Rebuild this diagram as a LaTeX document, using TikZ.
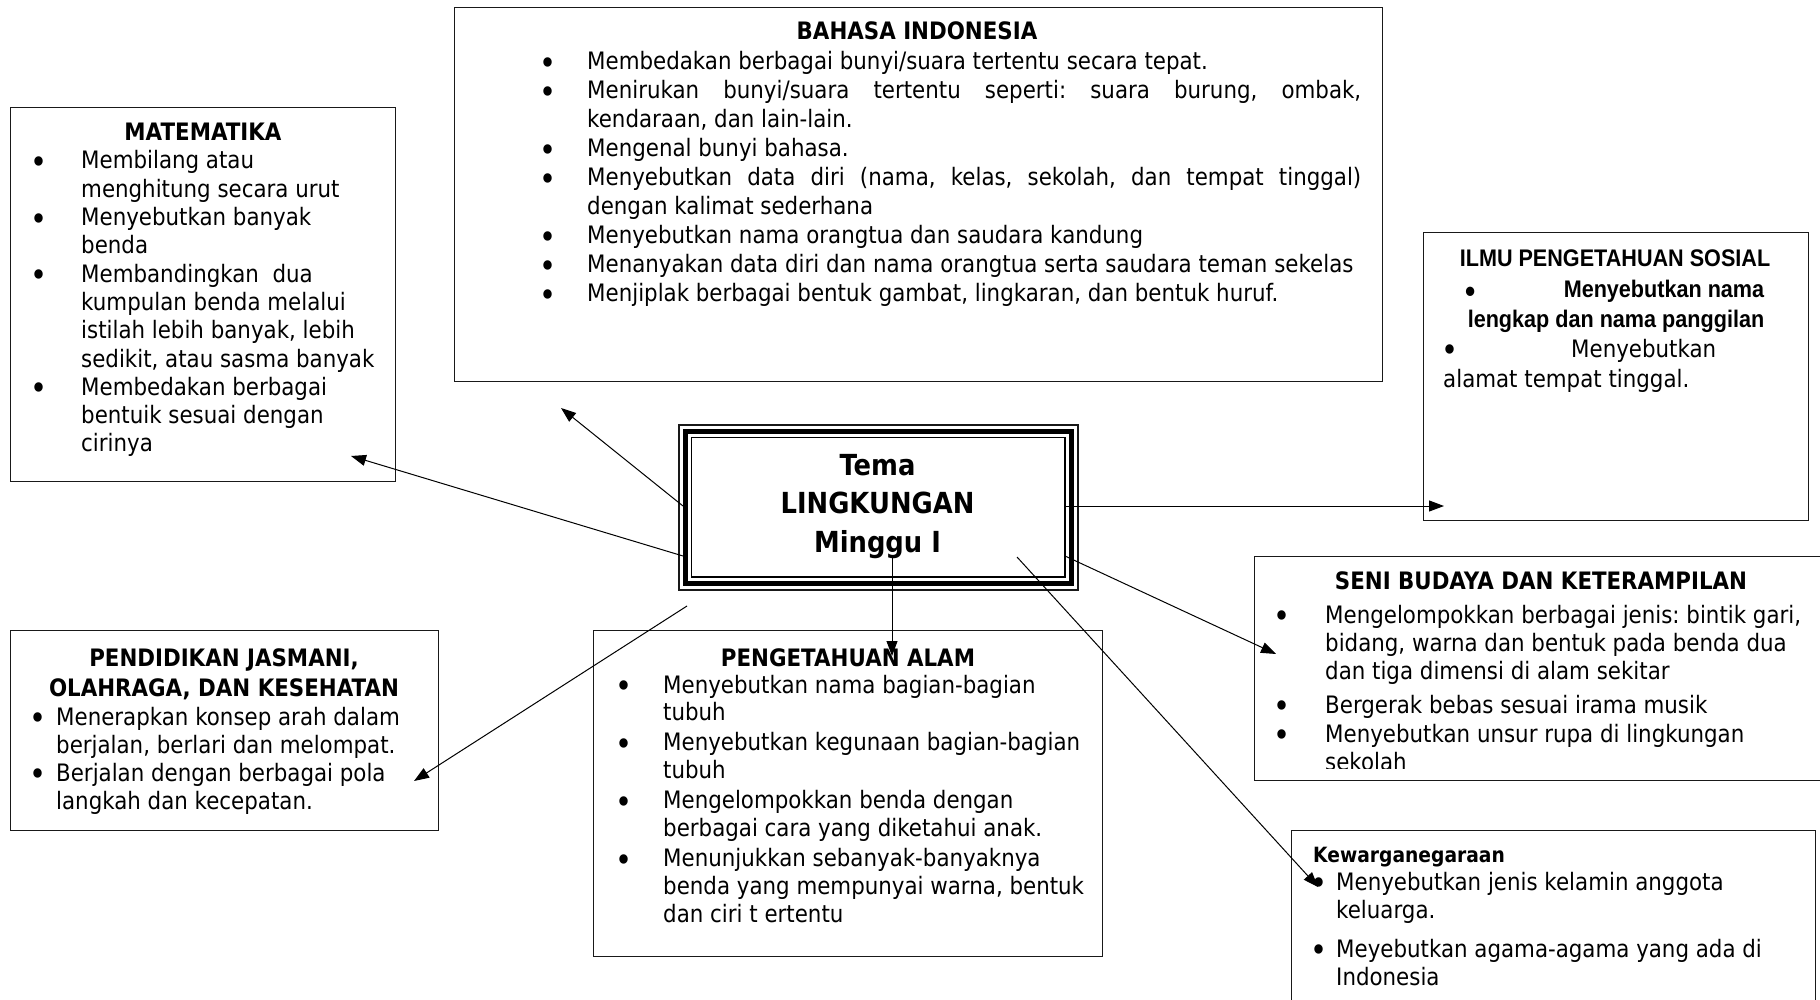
\documentclass[tikz,border=0pt]{standalone}
\usepackage{graphicx}
\usepackage{fontspec}
\setmainfont{DejaVu Sans}[FakeStretch=0.89]
\newfontfamily\sempit{Liberation Sans}[FakeStretch=0.9]
\usetikzlibrary{arrows.meta,calc}

% poin dan butir berpoin: #1 = indentasi teks, #2 = isi
\newcommand{\poin}{\raisebox{-4.5pt}{\scalebox{1.35}{\textbullet}}}
\newcommand{\itm}[2]{\par\hangindent=#1\hangafter=1\noindent\makebox[#1][l]{\poin}#2\par}
\newcommand{\isi}[1]{\fontsize{24}{#1}\selectfont\raggedright\frenchspacing}

\tikzset{
  kotak/.style={draw=black!90, line width=1.3pt, inner sep=0pt, anchor=north west},
  judul/.style={anchor=base, inner sep=0pt, font=\bfseries\fontsize{24}{30}\selectfont},
  teks/.style={anchor=base west, inner sep=0pt},
  panah/.style={line width=1pt, -{Triangle[length=15pt,width=11pt]}}
}

\begin{document}
\begin{tikzpicture}[x=1pt,y=1pt,yscale=-1,xscale=1]
\fill [white] (0,0) rectangle (1820,1000);
\useasboundingbox (0,0) rectangle (1820,1000);

%Shape: Rectangle [BAHASA INDONESIA]
\draw (454,7) node [kotak, minimum width=928pt, minimum height=374pt] (bahasa) {};
% Text Node
\draw (917,40) node [judul] (bahasa-judul) {BAHASA INDONESIA};
% Text Node
\draw (539,70) node [teks] (bahasa-isi) {\parbox[t]{840pt}{\isi{29}
\itm{48pt}{Membedakan berbagai bunyi/suara tertentu secara tepat.}
\itm{48pt}{\makebox[774pt][s]{Menirukan bunyi/suara tertentu seperti: suara burung, ombak,}\newline kendaraan, dan lain-lain.}
\itm{48pt}{Mengenal bunyi bahasa.}
\itm{48pt}{\makebox[774pt][s]{Menyebutkan data diri (nama, kelas, sekolah, dan tempat tinggal)}\newline dengan kalimat sederhana}
\itm{48pt}{Menyebutkan nama orangtua dan saudara kandung}
\itm{48pt}{Menanyakan data diri dan nama orangtua serta saudara teman sekelas}
\itm{48pt}{Menjiplak berbagai bentuk gambat, lingkaran, dan bentuk huruf.}}};

%Shape: Rectangle [MATEMATIKA]
\draw (10,107) node [kotak, minimum width=385pt, minimum height=374pt] (mat) {};
% Text Node
\draw (203,141) node [judul] (mat-judul) {MATEMATIKA};
% Text Node
\draw (30,169) node [teks] (mat-isi) {\parbox[t]{420pt}{\isi{28.3}
\itm{51pt}{Membilang atau\newline menghitung secara urut}
\itm{51pt}{Menyebutkan banyak\newline benda}
\itm{51pt}{Membandingkan\ \ dua\newline kumpulan benda melalui\newline istilah lebih banyak, lebih\newline sedikit, atau sasma banyak}
\itm{51pt}{Membedakan berbagai\newline bentuik sesuai dengan\newline cirinya}}};

%Shape: Rectangle [ILMU PENGETAHUAN SOSIAL]
\draw (1423,232) node [kotak, minimum width=385pt, minimum height=288pt] (ips) {};
% Text Node
\draw (1615,267) node [anchor=base, inner sep=0pt, font=\sempit\bfseries\fontsize{24}{30}\selectfont] (ips-judul) {ILMU PENGETAHUAN SOSIAL};
% Text Node
\draw (1441,298) node [teks] (ips-isi) {\parbox[t]{340pt}{\isi{29.7}
{\sempit\bfseries\makebox[323pt][s]{\hspace*{24pt}\poin\hfill Menyebutkan nama}\newline
\makebox[323pt][r]{lengkap dan nama panggilan}}\newline
\makebox[130pt][l]{\poin}Menyebutkan\newline
\hspace*{2pt}alamat tempat tinggal.}};

%Shape: Triple Rectangle [Tema]
\draw (678,424) node [kotak, line width=1.8pt, minimum width=399pt, minimum height=165pt] (tema) {};
\draw [line width=4.5pt] ($(tema.north west)+(7.5,7.5)$) rectangle ($(tema.south east)+(-7.5,-7.5)$);
\draw [line width=1.8pt] ($(tema.north west)+(13.5,13.5)$) rectangle ($(tema.south east)+(-13.5,-13.5)$);
% Text Node
\draw (877.5,475) node [anchor=base, inner sep=0pt] (tema-isi) {\parbox[t]{380pt}{\centering\bfseries\fontsize{29}{38.5}\selectfont Tema\\LINGKUNGAN\\Minggu I}};

%Shape: Rectangle [SENI BUDAYA DAN KETERAMPILAN]
\draw (1254,556) node [kotak, minimum width=574pt, minimum height=224pt] (seni) {};
% Text Node
\draw (1541,589) node [judul] (seni-judul) {SENI BUDAYA DAN KETERAMPILAN};
% Text Node
\begin{scope}
\clip (1254,556) rectangle (1820,768);
\draw (1273,623) node [teks] (seni-isi) {\parbox[t]{560pt}{\isi{28}
\itm{52pt}{Mengelompokkan berbagai jenis: bintik gari,\newline bidang, warna dan bentuk pada benda dua\newline dan tiga dimensi di alam sekitar}
\vspace{6pt}
\itm{52pt}{Bergerak bebas sesuai irama musik}
\vspace{1pt}
\itm{52pt}{Menyebutkan unsur rupa di lingkungan\newline sekolah}}};
\end{scope}

%Shape: Rectangle [PENDIDIKAN JASMANI]
\draw (10,630) node [kotak, minimum width=428pt, minimum height=200pt] (penjas) {};
% Text Node
\draw (224,666) node [judul] (penjas-judul) {\parbox[t]{420pt}{\centering PENDIDIKAN JASMANI,\\OLAHRAGA, DAN KESEHATAN}};
% Text Node
\draw (29,725) node [teks] (penjas-isi) {\parbox[t]{420pt}{\isi{28}
\itm{27pt}{Menerapkan konsep arah dalam\newline berjalan, berlari dan melompat.}
\itm{27pt}{Berjalan dengan berbagai pola\newline langkah dan kecepatan.}}};

%Shape: Rectangle [PENGETAHUAN ALAM]
\draw (593,630) node [kotak, minimum width=509pt, minimum height=326pt] (alam) {};
% Text Node
\draw (848,666) node [judul] (alam-judul) {PENGETAHUAN ALAM};
% Text Node
\draw (615,693) node [teks] (alam-isi) {\parbox[t]{500pt}{\isi{27.7}
\itm{48pt}{Menyebutkan nama bagian-bagian\newline tubuh}
\vspace{2.5pt}
\itm{48pt}{Menyebutkan kegunaan bagian-bagian\newline tubuh}
\vspace{2.5pt}
\itm{48pt}{Mengelompokkan benda dengan\newline berbagai cara yang diketahui anak.}
\vspace{2.5pt}
\itm{48pt}{Menunjukkan sebanyak-banyaknya\newline benda yang mempunyai warna, bentuk\newline dan ciri t ertentu}}};

%Shape: Rectangle [Kewarganegaraan]
\draw (1291,830) node [kotak, minimum width=524pt, minimum height=200pt] (pkn) {};
% Text Node
\draw (1313,862) node [anchor=base west, inner sep=0pt, font=\bfseries\fontsize{21}{26}\selectfont] (pkn-judul) {Kewarganegaraan};
% Text Node
\draw (1310,890) node [teks] (pkn-isi) {\parbox[t]{500pt}{\isi{28}
\itm{26pt}{Menyebutkan jenis kelamin anggota\newline keluarga.}
\vspace{11pt}
\itm{26pt}{Meyebutkan agama-agama yang ada di\newline Indonesia}}};

%Straight Lines
\coordinate (p1) at (683,506);  \coordinate (q1) at (561,408);
\coordinate (p2) at (683,556);  \coordinate (q2) at (351,456);
\coordinate (p3) at (1065,506); \coordinate (q3) at (1444,506);
\coordinate (p4) at (1065,556); \coordinate (q4) at (1276,654);
\coordinate (p5) at (892,557);  \coordinate (q5) at (892,656);
\coordinate (p6) at (1017,557); \coordinate (q6) at (1318,887);
\coordinate (p7) at (687,606);  \coordinate (q7) at (414,781);
\draw [panah] (p1) -- (q1);
\draw [panah] (p2) -- (q2);
\draw [panah] (p3) -- (q3);
\draw [panah] (p4) -- (q4);
\draw [panah] (p5) -- (q5);
\draw [panah] (p6) -- (q6);
\draw [panah] (p7) -- (q7);

\end{tikzpicture}
\end{document}
